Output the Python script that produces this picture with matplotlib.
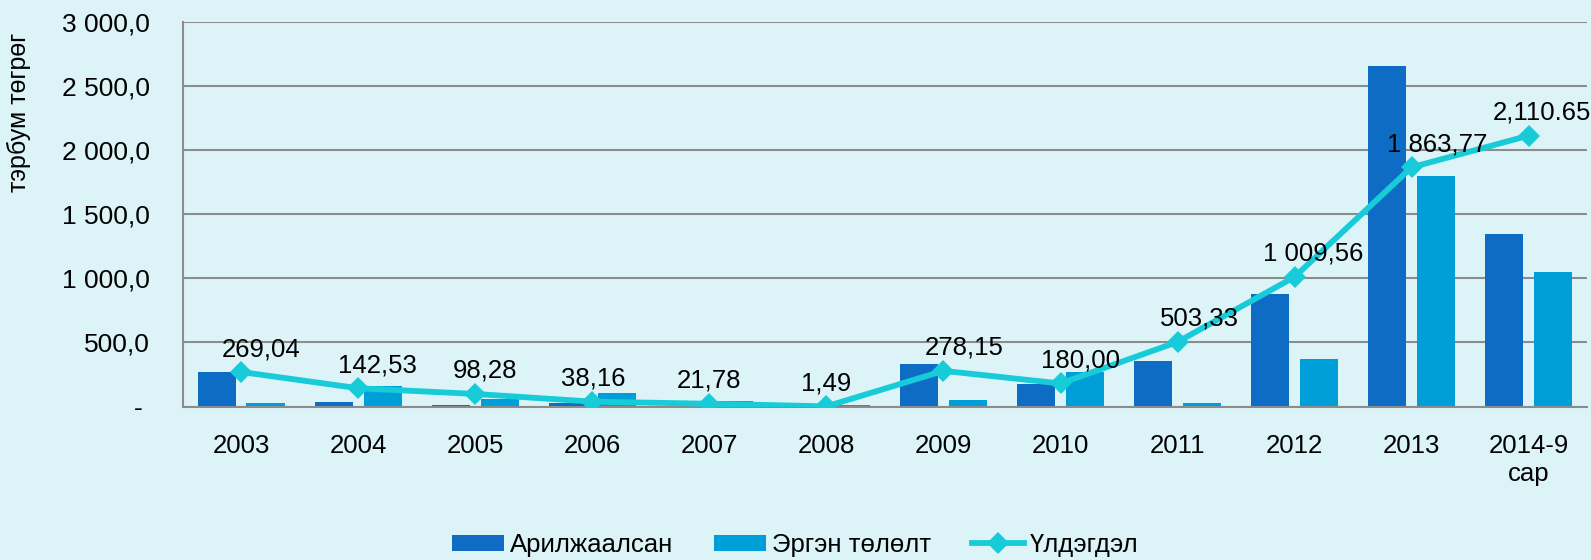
import numpy as np
import matplotlib
matplotlib.use('Agg')
import matplotlib.pyplot as plt

# data (тэрбум төгрөг)
years = ['2003', '2004', '2005', '2006', '2007', '2008', '2009', '2010',
         '2011', '2012', '2013', '2014-9\nсар']
traded = [266, 37, 9, 27, 5, 4, 334, 172, 354, 879, 2653, 1343]
repaid = [27, 162, 57, 104, 46, 14, 53, 271, 27, 370, 1793, 1050]
remain = [269.04, 142.53, 98.28, 38.16, 21.78, 1.49, 278.15, 180.00,
          503.33, 1009.56, 1863.77, 2110.65]
remain_labels = ['269,04', '142,53', '98,28', '38,16', '21,78', '1,49', '278,15',
                 '180,00', '503,33', '1 009,56', '1 863,77', '2,110.65']
yticks = [0, 500, 1000, 1500, 2000, 2500, 3000]
ytick_labels = ['- ', '500,0', '1 000,0', '1 500,0', '2 000,0', '2 500,0', '3 000,0']

# label nudges in pixels (Excel placed them by hand)
label_dx = [20, 19, 10, 1, 0, 0, 21, 20, 22, 19, 26, 13]

bg = '#dcf4f8'
dark = '#0f6cc4'
light = '#009ed8'
cyan = '#17ccd8'
grid = '#8c8c8c'

plt.rcParams['font.family'] = ['Liberation Sans', 'DejaVu Sans']

fig = plt.figure(figsize=(15.91, 5.6), dpi=100, facecolor=bg)
ax = fig.add_axes([0.115, 0.274, 0.8825, 0.6876])
ax.set_facecolor(bg)

x = np.arange(len(years))
w = 0.328
b1 = ax.bar(x - 0.207, traded, w, color=dark, label='Арилжаалсан', zorder=2)
b2 = ax.bar(x + 0.207, repaid, w, color=light, label='Эргэн төлөлт', zorder=2)
ln, = ax.plot(x, remain, color=cyan, lw=4.2, marker='D', ms=11.5, mew=0,
              label='Үлдэгдэл', zorder=3)

for i, (v, s) in enumerate(zip(remain, remain_labels)):
    ax.annotate(s, (x[i], v), xytext=(label_dx[i], 23), textcoords='offset pixels',
                ha='center', va='center', fontsize=18.5, zorder=4)

ax.set_xlim(-0.5, len(years) - 0.5)
ax.set_ylim(0, 3000)
ax.set_yticks(yticks)
ax.set_yticklabels(ytick_labels)
ax.set_xticks(x)
ax.set_xticklabels(years)
ax.tick_params(axis='y', length=0, pad=24, labelsize=19)
ax.tick_params(axis='x', length=0, pad=20, labelsize=18.5)
ax.yaxis.grid(True, color=grid, lw=1.5, zorder=1)
ax.set_axisbelow(True)
for sp in ['top', 'right']:
    ax.spines[sp].set_visible(False)
for sp in ['left', 'bottom']:
    ax.spines[sp].set_color(grid)
    ax.spines[sp].set_linewidth(1.5)

fig.text(0.012, 1 - 112 / 560, 'тэрбум төгрөг', rotation=90, ha='center', va='center',
         fontsize=18)

fig.legend([b1, b2, ln], ['Арилжаалсан', 'Эргэн төлөлт', 'Үлдэгдэл'],
           loc='center', bbox_to_anchor=(0.5, 0.027), ncol=3, frameon=False,
           fontsize=18.5, handlelength=2.0, handleheight=0.55, handletextpad=0.25,
           columnspacing=1.6)

fig.savefig('out.png', dpi=100, facecolor=bg)
